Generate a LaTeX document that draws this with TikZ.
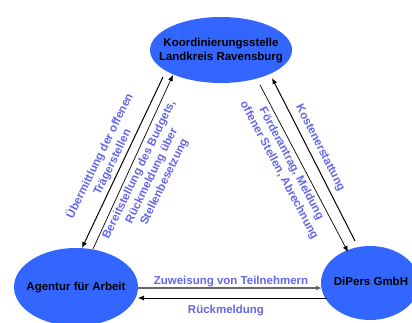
\documentclass[tikz,border=0pt]{standalone}
\usepackage{fontspec}
\setmainfont{Liberation Sans}
\usetikzlibrary{arrows.meta,shapes.geometric}
\definecolor{ellblue}{RGB}{51,102,255}
\definecolor{lblblue}{RGB}{102,102,235}
\begin{document}
\begin{tikzpicture}[x=1pt,y=1pt,
  place/.style={ellipse, fill=ellblue, draw=none, inner sep=0pt},
  nodetext/.style={font=\fontsize{11.5}{14}\selectfont\bfseries, align=center, inner sep=0pt, text=black},
  lbl/.style={text=lblblue, font=\fontsize{11.5}{14}\selectfont\bfseries, align=center, inner sep=0pt},
  arr/.style={-{Latex[length=6pt,width=5pt]}, line width=1pt, black},
  thinarr/.style={arr, line width=0.7pt},
]
\useasboundingbox (0,0) rectangle (412,323);
\fill[white] (0,0) rectangle (412,323);
\node[place, minimum width=142, minimum height=66] (K) at (221,273) {};
\node[place, minimum width=124, minimum height=78] (A) at (76,36) {};
\node[place, minimum width=98, minimum height=74] (D) at (370,40) {};
\node[nodetext] (Kt) at (221,272) {Koordinierungsstelle\\Landkreis Ravensburg};
\node[nodetext, anchor=base] (At) at (76,32) {Agentur für Arbeit};
\node[nodetext, anchor=base] (Dt) at (371,37) {DiPers GmbH};
% connector end points
\coordinate (l1a) at ([shift={(-58,-27)}]K.center);
\coordinate (l1b) at ([shift={(6,39)}]A.center);
\coordinate (l2a) at ([shift={(17,38)}]A.center);
\coordinate (l2b) at ([shift={(-48,-25)}]K.center);
\coordinate (r1a) at ([shift={(39,-35)}]K.center);
\coordinate (r1b) at ([shift={(-22,31)}]D.center);
\coordinate (r2a) at ([shift={(-15,42)}]D.center);
\coordinate (r2b) at ([shift={(51,-28)}]K.center);
\coordinate (h1a) at ([shift={(62,-1)}]A.center);
\coordinate (h1b) at ([shift={(-48,-5)}]D.center);
\coordinate (h2a) at ([shift={(-43,-15)}]D.center);
\coordinate (h2b) at ([shift={(62,-11)}]A.center);
\draw[arr] (l1a) -- (l1b);
\draw[thinarr] (l2a) -- (l2b);
\draw[thinarr] (r1a) -- (r1b);
\draw[arr] (r2a) -- (r2b);
\draw[arr, line width=1.3pt, gray!80!black] (h1a) -- (h1b);
\draw[thinarr] (h2a) -- (h2b);
% labels
\node[lbl, rotate=64] (t1) at (106,164) {Übermittlung der offenen\\Trägerstellen};
\node[lbl, rotate=64] (t2) at (152,147) {Bereitstellung des Budgets,\\Rückmeldung über\\Stellenbesetzung};
\node[lbl, rotate=-62] (t3) at (285,156) {Förderantrag, Meldung\\offener Stellen, Abrechnung};
\node[lbl, rotate=-63] (t4) at (320,175) {Kostenerstattung};
\node[lbl, anchor=base] (t5) at (231,38) {Zuweisung von Teilnehmern};
\node[lbl, anchor=base] (t6) at (226,9) {Rückmeldung};
\end{tikzpicture}
\end{document}
